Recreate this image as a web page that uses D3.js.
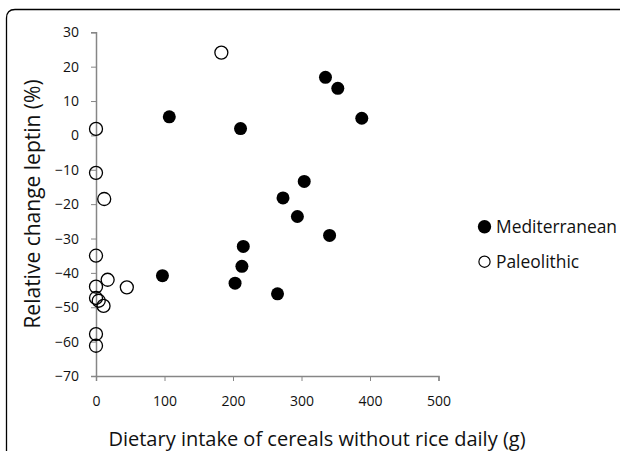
<!DOCTYPE html>
<html>
<head>
<meta charset="utf-8">
<script src="https://cdn.jsdelivr.net/npm/d3@7"></script>
<style>
  body { margin: 0; background: #fff; }
  svg { display: block; font-family: 'Open Sans', sans-serif; }
</style>
</head>
<body>
<div id="chart"></div>
<script>
'use strict';

// Mediterranean group: [cereal intake g/day, relative change leptin %]
const mediterranean = [
  [107, 5.4], [211, 2], [273, -18.2], [304, -13.4], [294, -23.6],
  [335, 16.9], [353, 13.7], [388, 5], [341, -29.1], [215, -32.3],
  [213, -38.1], [97, -40.8], [203, -43], [265, -46.1]
];

// Paleolithic group
const paleolithic = [
  [183, 24.1], [0, 1.9], [0, -10.9], [12, -18.5], [0, -35], [0, -44],
  [17, -42], [45, -44.2], [0, -47.3], [4, -48.1], [11, -49.6],
  [0, -57.8], [0, -61.2]
];

const xTicks = [0, 100, 200, 300, 400, 500];
const yTicks = [30, 20, 10, 0, -10, -20, -30, -40, -50, -60, -70];
const seriesNames = ['Mediterranean', 'Paleolithic'];

const width = 622;
const height = 451;

const x = d3.scaleLinear().domain([0, 500]).range([96, 438.5]);
const y = d3.scaleLinear().domain([-70, 30]).range([376, 32.3]);

const svg = d3
  .select('#chart')
  .append('svg')
  .attr('width', width)
  .attr('height', height);

// frame: left and top edges with a rounded corner
svg
  .append('path')
  .attr('d', 'M6.5,451 V18 Q6.5,9.5 15,9.5 H620')
  .attr('fill', 'none')
  .attr('stroke', '#000')
  .attr('stroke-width', 1.3);

const axisColor = '#868686';

const xAxis = svg
  .append('g')
  .attr('transform', 'translate(0,' + y(-70) + ')')
  .call(d3.axisBottom(x).tickValues(xTicks).tickSize(5).tickPadding(15));

const yAxis = svg
  .append('g')
  .attr('transform', 'translate(' + x(0) + ',0)')
  .call(d3.axisLeft(y).tickValues(yTicks).tickSize(5).tickPadding(12));

[xAxis, yAxis].forEach((g) => {
  g.select('.domain').attr('stroke', axisColor).attr('stroke-width', 1.5);
  g.selectAll('.tick line').attr('stroke', axisColor).attr('stroke-width', 1);
  g.selectAll('.tick text')
    .attr('fill', '#111')
    .style('font-size', '14px')
    .style('font-family', "'Open Sans', sans-serif");
});

// points
const r = 6.5;
svg
  .append('g')
  .selectAll('circle')
  .data(mediterranean)
  .enter()
  .append('circle')
  .attr('cx', (d) => x(d[0]))
  .attr('cy', (d) => y(d[1]))
  .attr('r', r)
  .attr('fill', '#000');

svg
  .append('g')
  .selectAll('circle')
  .data(paleolithic)
  .enter()
  .append('circle')
  .attr('cx', (d) => x(d[0]))
  .attr('cy', (d) => y(d[1]))
  .attr('r', r)
  .attr('fill', 'none')
  .attr('stroke', '#000')
  .attr('stroke-width', 1.3);

// axis titles
svg
  .append('text')
  .attr('x', 317)
  .attr('y', 446)
  .attr('text-anchor', 'middle')
  .style('font-size', '20px')
  .attr('fill', '#111')
  .text('Dietary intake of cereals without rice daily (g)');

svg
  .append('text')
  .attr('transform', 'translate(40,204) rotate(-90)')
  .attr('text-anchor', 'middle')
  .style('font-size', '21px')
  .attr('fill', '#111')
  .text('Relative change leptin (%)');

// legend
const legend = svg
  .selectAll('.legend')
  .data(seriesNames)
  .enter()
  .append('g')
  .attr('class', 'legend')
  .attr('transform', (d, i) => 'translate(484.5,' + (226.7 + i * 35) + ')');

legend
  .append('circle')
  .attr('r', (d, i) => (i === 0 ? 6.7 : 5.6))
  .attr('fill', (d, i) => (i === 0 ? '#000' : 'none'))
  .attr('stroke', '#000')
  .attr('stroke-width', (d, i) => (i === 0 ? 0 : 1.2));

legend
  .append('text')
  .attr('x', 11.5)
  .attr('y', 6.3)
  .style('font-size', '17.4px')
  .attr('fill', '#111')
  .text((d) => d);
</script>
</body>
</html>
